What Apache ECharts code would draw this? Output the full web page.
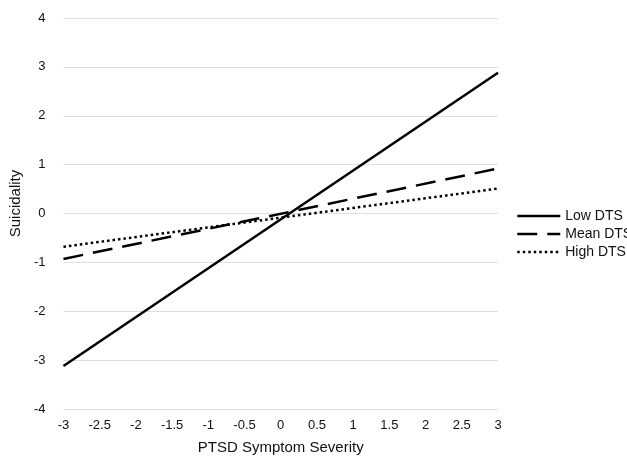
<!DOCTYPE html>
<html>
<head>
<meta charset="utf-8">
<script src="https://cdn.jsdelivr.net/npm/echarts@6/dist/echarts.min.js"></script>
<style>
  html, body { margin: 0; padding: 0; background: #fff; }
  #main { width: 627px; height: 463px; }
</style>
</head>
<body>
<div id="main"></div>
<script>
// endpoints of the simple slopes
const xValues = [-3, 3];
const lowDTS = [-3.12, 2.88];
const meanDTS = [-0.93, 0.92];
const highDTS = [-0.68, 0.51];
const seriesNames = ['Low DTS', 'Mean DTS', 'High DTS'];

const pairs = (ys) => xValues.map((x, i) => [x, ys[i]]);

const chart = echarts.init(document.getElementById('main'));

const lineSeries = (name, ys, type) => ({
    name: name,
    type: 'line',
    data: pairs(ys),
    symbol: 'none',
    lineStyle: { color: '#000', width: 2.5, type: type },
    itemStyle: { color: '#000' },
    animation: false
});

chart.setOption({
    textStyle: { fontFamily: 'Liberation Sans, Arial, sans-serif' },
    grid: { left: 63, right: 129, top: 18, bottom: 54 },
    legend: {
        orient: 'vertical',
        left: 511,
        top: 204,
        itemWidth: 43,
        itemHeight: 12,
        itemGap: 4,
        itemStyle: { opacity: 0 },
        lineStyle: { width: 2.5 },
        textStyle: { fontSize: 14, color: '#111' },
        data: seriesNames
    },
    xAxis: {
        type: 'value',
        min: -3,
        max: 3,
        interval: 0.5,
        name: 'PTSD Symptom Severity',
        nameLocation: 'middle',
        nameGap: 31,
        nameTextStyle: { fontSize: 15, color: '#111' },
        axisLine: { show: false },
        axisTick: { show: false },
        splitLine: { show: false },
        axisLabel: { fontSize: 13, color: '#111', margin: 10 }
    },
    yAxis: {
        type: 'value',
        min: -4,
        max: 4,
        interval: 1,
        name: 'Suicidality',
        nameLocation: 'middle',
        nameGap: 34,
        nameTextStyle: { fontSize: 15, color: '#111', padding: [0, 0, 0, 20] },
        axisLine: { show: false },
        axisTick: { show: false },
        splitLine: { lineStyle: { color: '#e0e0e0', width: 1 } },
        axisLabel: { fontSize: 13, color: '#111', margin: 18 }
    },
    series: [
        lineSeries(seriesNames[0], lowDTS, 'solid'),
        lineSeries(seriesNames[1], meanDTS, [20, 10]),
        lineSeries(seriesNames[2], highDTS, [2.5, 3])
    ]
});
</script>
</body>
</html>
